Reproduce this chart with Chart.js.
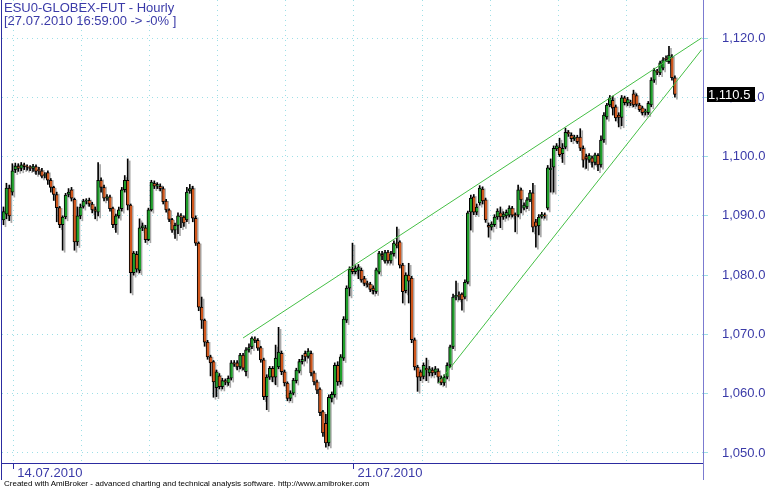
<!DOCTYPE html>
<html lang="en">
<head>
    <meta charset="UTF-8">
    <title>ESU0-GLOBEX-FUT - Hourly</title>
    <script src="https://cdn.jsdelivr.net/npm/chart.js"></script>
    <style>
        body { margin: 0; background: #fff; }
        .wrap { position: relative; width: 770px; height: 490px; overflow: hidden; }
        #chart { position: absolute; left: 0; top: 0; }
        .title {
            position: absolute; left: 4px; top: 1px;
            font: 13px 'Liberation Sans', Arial, sans-serif; line-height: 13px;
            color: #3a3aa8; white-space: nowrap;
        }
        .footer {
            position: absolute; left: 4px; top: 479px;
            font: 8px 'Liberation Sans', Arial, sans-serif; color: #000; white-space: nowrap;
        }
    </style>
</head>
<body>
<div class="wrap">
    <canvas id="chart" width="770" height="490"></canvas>
    <div class="title">ESU0-GLOBEX-FUT - Hourly<br>[27.07.2010 16:59:00 -&gt; -0% ]</div>
    <div class="footer">Created with AmiBroker - advanced charting and technical analysis software. http://www.amibroker.com</div>
</div>

<script>
    // hourly OHLC
    const opens = [
        1089.3,1090.3,1094.7,1094.0,1097.8,1098.4,1098.0,1098.6,1098.3,1098.2,
        1098.0,1098.3,1097.8,1097.6,1096.8,1097.3,1096.0,1094.8,1093.6,1091.4,
        1088.5,1089.8,1093.6,1094.4,1092.8,1085.6,1090.0,1091.6,1092.5,1092.6,
        1092.0,1091.0,1090.6,1096.0,1094.8,1093.0,1093.2,1091.3,1088.5,1090.0,
        1091.2,1094.4,1096.0,1091.8,1080.4,1083.5,1080.8,1088.0,1088.0,1086.0,
        1091.0,1095.5,1095.0,1095.0,1094.6,1092.5,1091.0,1089.4,1087.6,1088.4,
        1090.0,1089.8,1089.3,1094.2,1094.6,1089.6,1085.4,1074.6,1072.4,1068.7,
        1066.2,1065.4,1061.0,1063.0,1061.2,1062.2,1061.8,1062.6,1065.2,1065.2,
        1064.5,1066.5,1063.7,1067.4,1067.9,1069.2,1069.0,1067.8,1065.7,1059.5,
        1062.8,1064.3,1062.8,1064.5,1066.8,1063.7,1061.8,1059.2,1060.1,1062.2,
        1063.8,1065.4,1066.8,1066.3,1066.8,1063.5,1062.0,1060.8,1057.0,1055.0,
        1051.7,1059.2,1059.8,1064.8,1062.0,1066.0,1072.4,1077.8,1081.0,1080.6,
        1080.8,1080.8,1079.4,1078.6,1078.5,1077.8,1077.2,1080.5,1083.5,1082.4,
        1083.9,1082.4,1083.6,1085.2,1085.6,1081.7,1077.4,1080.0,1079.5,1069.1,
        1064.5,1063.7,1062.9,1064.3,1063.5,1064.0,1063.6,1063.8,1062.6,1061.8,
        1062.8,1064.8,1067.9,1076.3,1076.6,1076.8,1076.3,1078.8,1090.6,1093.2,
        1090.6,1092.2,1094.5,1092.7,1088.4,1088.1,1088.5,1089.8,1090.5,1089.8,
        1090.0,1090.1,1091.3,1090.2,1090.1,1094.4,1091.3,1091.5,1092.7,1093.9,
        1089.0,1088.3,1089.9,1090.1,1091.3,1097.8,1098.2,1101.3,1101.6,1100.5,
        1101.6,1104.1,1103.6,1103.0,1103.3,1103.3,1101.4,1100.0,1099.4,1099.8,
        1099.0,1100.2,1098.6,1102.8,1106.7,1108.7,1109.5,1108.4,1107.0,1106.6,
        1109.9,1109.0,1109.2,1110.6,1110.3,1108.7,1108.2,1107.5,1107.4,1108.7,
        1112.9,1114.3,1114.1,1114.9,1116.6,1116.0,1116.8,1113.3
    ];
    const highs = [
        1091.5,1095.5,1095.2,1098.8,1098.9,1098.8,1099.0,1098.9,1098.6,1098.5,
        1098.7,1098.6,1098.2,1098.0,1097.3,1097.6,1096.3,1095.0,1094.0,1091.6,
        1090.0,1093.8,1094.6,1094.8,1093.0,1091.5,1092.0,1092.8,1092.9,1093.0,
        1092.3,1091.5,1099.0,1096.4,1095.2,1093.6,1093.5,1091.5,1090.3,1091.5,
        1094.8,1096.8,1099.6,1092.0,1084.0,1084.0,1089.5,1088.8,1088.4,1091.3,
        1096.0,1095.9,1095.6,1095.4,1094.9,1092.8,1091.2,1089.6,1088.8,1090.5,
        1090.4,1090.0,1094.8,1095.3,1095.0,1090.0,1085.6,1076.3,1072.6,1069.0,
        1066.5,1065.6,1064.0,1063.4,1062.6,1062.5,1063.0,1065.6,1065.6,1065.6,
        1066.8,1066.8,1067.8,1068.4,1069.6,1069.6,1069.3,1068.0,1066.0,1063.2,
        1064.6,1064.6,1068.2,1071.2,1067.2,1064.0,1062.0,1060.5,1062.6,1064.3,
        1065.8,1066.5,1067.2,1067.6,1067.2,1063.8,1062.3,1061.0,1057.2,1056.5,
        1059.8,1060.3,1065.2,1065.4,1066.6,1073.0,1078.2,1081.4,1085.4,1081.6,
        1081.8,1081.2,1079.8,1079.0,1078.8,1078.2,1081.2,1084.0,1084.0,1084.2,
        1084.2,1084.0,1085.8,1088.1,1085.8,1082.0,1080.4,1082.0,1079.8,1069.4,
        1064.8,1064.0,1065.2,1066.0,1064.6,1064.4,1064.6,1064.2,1063.0,1063.2,
        1065.2,1068.2,1076.8,1079.0,1077.2,1077.0,1079.2,1090.8,1093.5,1093.6,
        1092.0,1095.1,1094.9,1093.0,1088.8,1089.0,1090.2,1091.2,1091.5,1090.7,
        1091.0,1091.7,1091.6,1090.5,1095.2,1094.7,1092.2,1093.1,1094.3,1095.5,
        1089.4,1090.2,1090.6,1090.5,1098.5,1099.6,1101.8,1102.2,1103.1,1102.2,
        1104.8,1104.4,1104.0,1103.6,1103.6,1104.7,1101.8,1100.4,1100.5,1100.1,
        1100.6,1100.5,1103.5,1107.4,1109.0,1110.3,1110.2,1108.7,1107.4,1110.3,
        1110.2,1110.0,1109.5,1111.2,1110.6,1109.0,1108.5,1108.0,1109.3,1113.3,
        1114.9,1114.7,1116.1,1116.7,1117.0,1118.6,1117.2,1113.6
    ];
    const lows = [
        1088.5,1089.5,1089.2,1093.5,1097.3,1097.5,1097.6,1097.8,1097.7,1097.6,
        1097.5,1097.0,1097.0,1096.4,1096.4,1095.3,1094.0,1092.6,1089.0,1088.0,
        1084.2,1089.5,1093.2,1092.5,1084.2,1085.0,1089.5,1091.3,1092.0,1091.6,
        1090.5,1089.5,1090.0,1094.0,1092.5,1092.6,1090.8,1088.0,1087.2,1089.6,
        1090.8,1094.0,1091.0,1077.0,1080.0,1080.5,1080.4,1087.5,1085.5,1085.8,
        1090.8,1094.6,1094.6,1094.2,1092.0,1090.6,1089.0,1087.2,1086.2,1087.0,
        1088.0,1088.2,1089.0,1093.8,1089.0,1085.0,1074.0,1071.0,1068.0,1065.8,
        1063.0,1059.4,1059.5,1060.8,1060.8,1061.5,1061.4,1062.3,1064.6,1064.0,
        1064.2,1064.0,1063.0,1067.0,1067.6,1068.6,1067.3,1065.3,1059.0,1057.3,
        1062.4,1062.0,1061.5,1064.2,1063.2,1061.3,1058.8,1058.8,1059.8,1061.8,
        1063.5,1065.0,1065.5,1066.0,1063.0,1061.5,1060.0,1056.3,1052.8,1051.0,
        1051.2,1058.6,1059.4,1061.4,1061.6,1065.6,1072.0,1076.5,1080.2,1080.2,
        1079.4,1078.8,1078.2,1078.0,1077.2,1076.8,1076.9,1080.2,1082.6,1082.0,
        1082.0,1082.0,1083.2,1084.6,1081.2,1075.3,1077.0,1075.3,1068.6,1064.0,
        1060.4,1062.2,1062.5,1062.2,1063.0,1063.0,1063.2,1061.8,1061.5,1061.4,
        1062.5,1064.4,1067.6,1075.8,1075.8,1074.1,1076.0,1078.5,1087.6,1090.2,
        1090.2,1091.8,1092.0,1088.9,1086.4,1087.6,1088.2,1089.4,1088.0,1089.4,
        1089.6,1089.8,1089.8,1087.3,1089.8,1090.5,1091.0,1091.2,1092.4,1087.3,
        1084.7,1086.8,1089.6,1089.6,1091.0,1094.0,1094.0,1101.0,1100.0,1099.0,
        1101.3,1103.4,1102.5,1102.7,1102.2,1101.0,1098.2,1098.0,1099.0,1098.2,
        1098.6,1097.6,1098.2,1102.4,1106.3,1108.4,1107.0,1106.0,1105.0,1105.2,
        1108.7,1108.6,1108.6,1108.4,1108.5,1107.6,1107.0,1107.0,1107.1,1108.4,
        1112.5,1113.8,1113.8,1114.6,1116.0,1115.7,1112.9,1110.0
    ];
    const closes = [
        1090.7,1094.7,1090.0,1097.6,1098.4,1098.0,1098.6,1098.3,1098.2,1098.0,
        1098.4,1097.5,1097.6,1096.7,1096.9,1096.0,1094.8,1093.6,1091.4,1088.5,
        1089.8,1093.5,1094.0,1093.0,1085.6,1090.0,1091.5,1092.5,1092.6,1092.0,
        1091.0,1090.8,1096.0,1094.8,1093.0,1093.2,1091.2,1088.5,1090.0,1091.0,
        1094.4,1096.0,1091.8,1080.4,1083.7,1081.0,1088.0,1088.3,1086.0,1091.0,
        1095.7,1095.0,1095.3,1094.6,1092.4,1091.0,1089.4,1087.6,1088.4,1090.0,
        1089.8,1088.8,1094.0,1094.6,1089.6,1085.4,1074.6,1072.4,1068.7,1066.2,
        1065.2,1062.0,1063.7,1061.2,1062.2,1062.0,1062.6,1065.2,1065.0,1064.5,
        1066.5,1064.3,1067.4,1067.8,1069.4,1069.0,1067.7,1065.7,1059.5,1062.8,
        1064.3,1062.8,1066.0,1067.0,1063.7,1061.8,1059.2,1060.1,1062.3,1064.0,
        1065.4,1065.8,1066.2,1067.2,1063.5,1062.0,1060.6,1056.8,1053.4,1051.7,
        1059.4,1059.9,1064.8,1062.0,1066.2,1072.6,1077.8,1081.0,1080.6,1081.2,
        1081.4,1079.2,1078.6,1078.4,1077.6,1077.4,1080.9,1083.7,1083.2,1083.8,
        1082.4,1083.6,1085.4,1085.0,1081.7,1077.2,1080.0,1079.0,1069.1,1064.5,
        1062.8,1062.8,1064.8,1064.0,1064.2,1063.5,1064.2,1062.8,1061.8,1062.8,
        1064.8,1067.9,1076.3,1076.6,1076.4,1075.8,1078.8,1090.5,1093.0,1090.6,
        1091.5,1094.7,1092.5,1089.3,1088.1,1088.6,1089.8,1090.8,1089.8,1090.3,
        1090.6,1091.3,1090.1,1090.0,1094.4,1092.7,1091.8,1092.7,1093.9,1088.1,
        1088.2,1089.8,1090.2,1090.0,1098.1,1098.0,1101.4,1101.8,1100.3,1101.4,
        1104.1,1103.8,1103.0,1103.3,1102.5,1101.4,1099.4,1099.6,1100.2,1099.0,
        1100.3,1098.6,1102.8,1107.0,1108.7,1109.9,1108.2,1106.5,1106.6,1109.9,
        1109.1,1109.6,1109.0,1108.7,1108.8,1107.9,1107.4,1107.6,1109.0,1112.9,
        1114.6,1114.2,1115.8,1116.3,1116.4,1117.1,1113.3,1110.5
    ];

    const blankBars = 9;                       // empty space right of the last bar
    const dayStarts = [4, 27, 50, 73, 96, 119, 142, 165, 188, 211];
    const dateTickIdx = [4, 119];
    const dateTicks = ['14.07.2010', '21.07.2010'];
    const priceTicks = [1050, 1060, 1070, 1080, 1090, 1100, 1110, 1120];

    // trend lines (bar index, price)
    const upperTrendIdx = [81, 236];
    const upperTrendVal = [1069.4, 1120.0];
    const lowerTrendIdx = [147, 236];
    const lowerTrendVal = [1061.8, 1118.0];

    const UP = '#1f9f2a';
    const DOWN = '#cf561c';
    const TEXT = '#3a3aa8';
    const GRID = '#9edfe6';
    const FONT = "'Liberation Sans', Arial, sans-serif";

    const labels = Array.from({ length: closes.length + blankBars }, (_, i) => String(i));
    const fmt = v => v.toLocaleString('en-US', { minimumFractionDigits: 1, maximumFractionDigits: 1 });

    function trendData(idx, val) {
        const d = labels.map(() => null);
        idx.forEach((k, j) => { d[k] = val[j]; });
        return d;
    }

    // AmiBroker draws a soft grey shadow down-right of each candle
    const shadow = {
        id: 'shadow',
        beforeDatasetDraw(chart, args) {
            if (chart.data.datasets[args.index].isShadow) {
                chart.ctx.save();
                chart.ctx.translate(2, 2);
            }
        },
        afterDatasetDraw(chart, args) {
            if (chart.data.datasets[args.index].isShadow) chart.ctx.restore();
        }
    };

    // frame bits and the last price tag
    const overlay = {
        id: 'overlay',
        afterDraw(chart) {
            const { ctx, chartArea: a, scales: { y } } = chart;
            ctx.save();
            ctx.lineWidth = 1;
            ctx.strokeStyle = '#2c2ca0';
            ctx.beginPath();
            ctx.moveTo(1.5, 0); ctx.lineTo(1.5, 480);
            ctx.stroke();
            ctx.strokeStyle = '#7b7bd0';
            ctx.beginPath();
            ctx.moveTo(a.right + 0.5, a.bottom); ctx.lineTo(a.right + 0.5, 480);
            ctx.stroke();

            const last = closes[closes.length - 1];
            const py = Math.round(y.getPixelForValue(last));
            ctx.fillStyle = '#000';
            ctx.fillRect(a.right + 4, py - 7, 48, 15);
            ctx.fillStyle = '#fff';
            ctx.font = '13px ' + FONT;
            ctx.textBaseline = 'middle';
            ctx.fillText(fmt(last), a.right + 5, py + 1);
            ctx.restore();
        }
    };

    new Chart(document.getElementById('chart'), {
        type: 'bar',
        data: {
            labels,
            datasets: [
                {
                    type: 'line',
                    data: trendData(upperTrendIdx, upperTrendVal),
                    borderColor: '#45bf45',
                    borderWidth: 1,
                    pointRadius: 0,
                    spanGaps: true,
                    order: 0
                },
                {
                    type: 'line',
                    data: trendData(lowerTrendIdx, lowerTrendVal),
                    borderColor: '#45bf45',
                    borderWidth: 1,
                    pointRadius: 0,
                    spanGaps: true,
                    order: 0
                },
                {
                    // candle bodies
                    data: opens.map((o, i) => [o, closes[i]]),
                    backgroundColor: closes.map((c, i) => c >= opens[i] ? UP : DOWN),
                    borderColor: '#000',
                    borderWidth: { left: 1, right: 0, top: 1, bottom: 1 },
                    borderSkipped: false,
                    barThickness: 3,
                    minBarLength: 1,
                    grouped: false,
                    order: 1
                },
                {
                    // wicks
                    data: lows.map((l, i) => [l, highs[i]]),
                    backgroundColor: '#000',
                    barThickness: 1,
                    grouped: false,
                    order: 2
                },
                {
                    // wick shadows
                    data: lows.map((l, i) => [l, highs[i]]),
                    backgroundColor: '#a8a8a8',
                    barThickness: 1,
                    grouped: false,
                    isShadow: true,
                    order: 3
                }
            ]
        },
        options: {
            responsive: false,
            animation: false,
            devicePixelRatio: 1,
            layout: { padding: { left: 2, right: 0, top: 0, bottom: 10 } },
            plugins: { legend: { display: false }, tooltip: { enabled: false } },
            scales: {
                x: {
                    offset: true,
                    grid: {
                        offset: true,
                        color: c => dayStarts.includes(c.index) ? GRID : 'rgba(0,0,0,0)',
                        tickColor: c => dateTickIdx.includes(c.index) ? '#2c2ca0' : 'rgba(0,0,0,0)',
                        tickLength: 6
                    },
                    border: { color: '#2c2ca0', dash: [1, 4] },
                    ticks: {
                        autoSkip: false,
                        maxRotation: 0,
                        minRotation: 0,
                        align: 'start',
                        labelOffset: 2,
                        padding: -3,
                        color: TEXT,
                        font: { family: FONT, size: 13 },
                        callback: (v, i) => {
                            const k = dateTickIdx.indexOf(i);
                            return k >= 0 ? dateTicks[k] : '';
                        }
                    },
                    afterFit: s => { s.height = 17; s.paddingLeft = 0; s.paddingRight = 0; }
                },
                y: {
                    position: 'right',
                    min: 1048.31,
                    max: 1126.41,
                    afterBuildTicks: s => { s.ticks = priceTicks.map(v => ({ value: v })); },
                    grid: { color: GRID, tickColor: GRID, tickLength: 5 },
                    border: { color: '#7b7bd0', dash: [1, 4] },
                    ticks: {
                        padding: 14,
                        color: TEXT,
                        font: { family: FONT, size: 13 },
                        callback: v => fmt(v)
                    },
                    afterFit: s => { s.width = 67; s.paddingTop = 0; s.paddingBottom = 0; }
                }
            }
        },
        plugins: [shadow, overlay]
    });
</script>
</body>
</html>
